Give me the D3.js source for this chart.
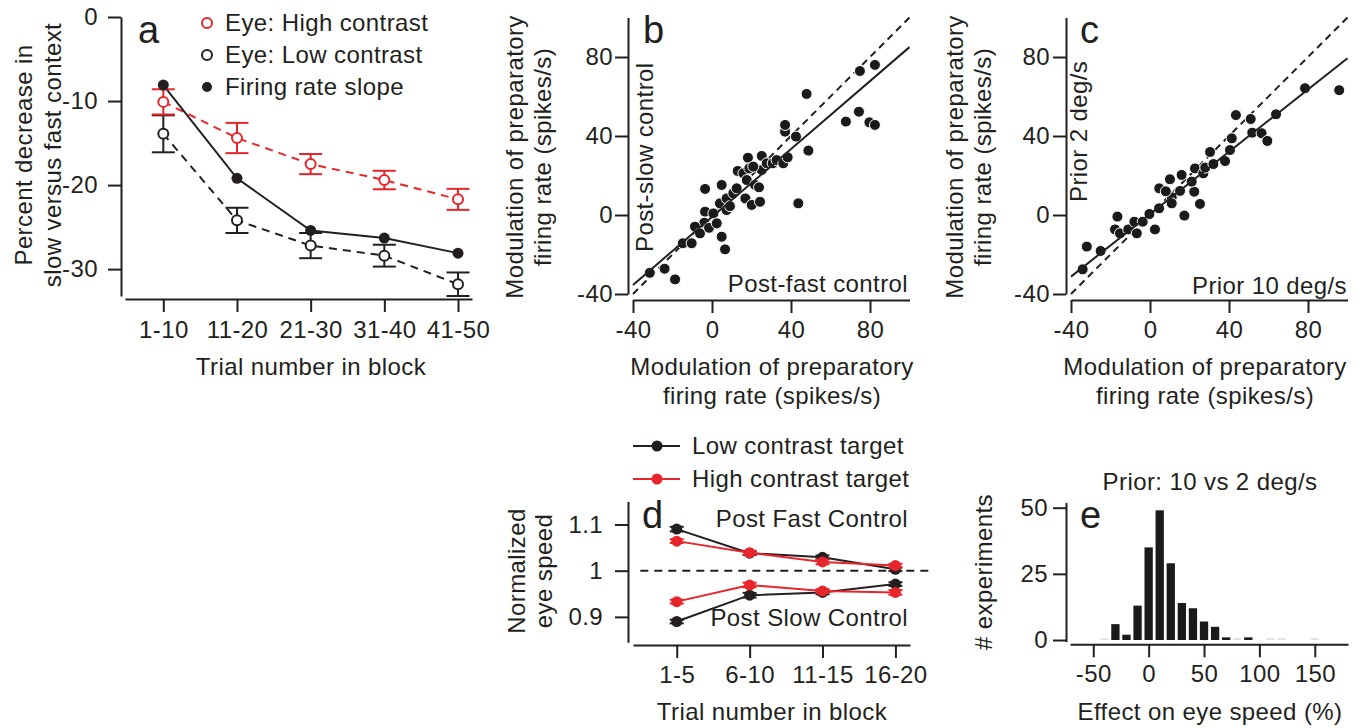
<!DOCTYPE html>
<html><head><meta charset="utf-8">
<script src="https://cdn.jsdelivr.net/npm/d3@7"></script>
<style>
body{margin:0;background:#fff;}
svg text{font-family:"Liberation Sans",Arial,Helvetica,sans-serif;fill:#231f20;}
</style></head><body>
<svg id="chart" width="1370" height="728"></svg>
<script>
// ---------- Panel a data ----------
const aCategories = ["1-10","11-20","21-30","31-40","41-50"];
const aFiringSlope = [-8.1,-19.2,-25.4,-26.3,-28.1];
const aEyeHigh = [-10.1,-14.4,-17.5,-19.4,-21.7];
const aEyeHighErr = [1.5,1.8,1.2,1.1,1.25];
const aEyeLow = [-13.9,-24.2,-27.2,-28.4,-31.8];
const aEyeLowErr = [2.2,1.5,1.5,1.3,1.4];
const aYTicks = [0,-10,-20,-30];
const aLegend = ["Eye: High contrast","Eye: Low contrast","Firing rate slope"];

// ---------- Panel b data (post-fast x, post-slow y) ----------
const bPostFast = [-31.5,-24,-18.7,-14.8,-10.3,-3.5,-3.5,-3.9,-8.6,-6.1,-1.5,0.7,2.4,4.9,6.6,4.9,4,7.4,7.4,9.1,10.8,12.5,13,15.9,17.6,18.2,18.9,16.9,20.1,21.8,23.8,25.2,25.2,20.9,24.3,27.7,30.7,32.7,36.1,38.3,37,37,42.5,48.8,43.7,47.9,67.8,74.4,74.9,79.7,82.5,82.5];
const bPostSlow = [-29.3,-27.2,-32.6,-14.3,-14.3,13.2,1.7,-3.9,-5.9,-9.3,-6.5,0.8,-4.2,-11,-17.4,15.2,5.9,8.4,2.5,4.5,11,13.5,22.3,21.1,17.7,29,23.6,8.4,5.1,15.2,14,29.9,22.8,24.5,6.7,26.2,26.2,27.8,26.2,29.2,42.2,45.6,39.7,32.6,5.9,61.3,47.3,52.3,72.9,46.9,76,45.6];
const bFit = {slope:0.86, intercept:-1};

// ---------- Panel c data (prior 10 x, prior 2 y) ----------
const cPrior10 = [-34.1,-32,-25,-16.5,-17.7,-15.2,-11,-7.9,-6.7,-3.7,-0.3,2.5,4.6,4.7,10.1,11,11,8,15.2,16,17.4,22.4,22.8,21.1,25.3,27,28,30.4,32.1,38,40.5,41.4,43.5,51,51.8,56.5,59.4,63.8,78.5,95.8];
const cPrior2 = [-27.5,-16,-18.2,-0.8,-7.3,-9.3,-7.3,-3.4,-9.3,-3.4,0.5,-7.3,3.4,13.5,18.1,9,5.9,12,12.2,20.3,-0.3,11.8,23.6,16.9,5.6,21.1,24,31.9,25.8,27.3,32.9,38.8,50.6,48.6,41.7,41.4,37.5,51,64.2,63.2];
const cFit = {slope:0.79, intercept:0.4};
const scatterTicks = [-40,0,40,80];

// ---------- Panel d data ----------
const dCategories = ["1-5","6-10","11-15","16-20"];
const dLowFast = [1.090,1.038,1.029,1.003];
const dLowSlow = [0.890,0.947,0.953,0.971];
const dHighFast = [1.064,1.039,1.019,1.011];
const dHighSlow = [0.933,0.969,0.956,0.953];
const dLowFastErr = [0.005,0.004,0.004,0.004];
const dLowSlowErr = [0.004,0.005,0.004,0.004];
const dHighFastErr = [0.004,0.004,0.005,0.004];
const dHighSlowErr = [0.004,0.005,0.004,0.005];
const dYTicks = [0.9,1,1.1];
const dLegend = ["Low contrast target","High contrast target"];

// ---------- Panel e data ----------
const eBins = [-40,-30,-20,-10,0,10,20,30,40,50,60,70,80,90,110,120,150];
const eCounts = [0,6,2,13,35,49,29,14,12,7,5,1,0,1,0,0,0];
const eXTicks = [-50,0,50,100,150];
const eYTicks = [0,25,50];

// ---------- drawing ----------
const svg = d3.select("#chart");
const INK = "#231f20", RED = "#e8252b";
const FS = 24, LS = "0.4px";
const fmt = d => String(d); // ASCII hyphen for negatives

function styleAxis(g){
  g.attr("font-size",null).attr("font-family",null);
  g.selectAll("path,line").attr("stroke",INK).attr("stroke-width",2);
  g.selectAll("text").attr("font-size",FS).attr("letter-spacing",LS).attr("fill",INK);
}
function text(x,y,s,opt={}){
  const t = svg.append("text").attr("x",x).attr("y",y).text(s)
    .attr("font-size",opt.size||FS).attr("letter-spacing",opt.ls||LS)
    .attr("text-anchor",opt.anchor||"start");
  if(opt.fill) t.attr("fill",opt.fill).style("fill",opt.fill);
  return t;
}
function rtext(x,y,s,anchor){ // rotated -90, (x,y) is the anchor point on baseline
  return svg.append("text").attr("transform",`translate(${x},${y}) rotate(-90)`)
    .attr("text-anchor",anchor||"middle").attr("font-size",FS).attr("letter-spacing",LS).text(s);
}
function errBars(g, xs, ys, es, sx, sy, color, half){
  xs.forEach((xv,i)=>{
    const x = sx(xv), y1 = sy(ys[i]-es[i]), y2 = sy(ys[i]+es[i]);
    g.append("line").attr("x1",x).attr("x2",x).attr("y1",y1).attr("y2",y2).attr("stroke",color).attr("stroke-width",2);
    [y1,y2].forEach(y=>g.append("line").attr("x1",x-half).attr("x2",x+half).attr("y1",y).attr("y2",y).attr("stroke",color).attr("stroke-width",2));
  });
}

// ===== Panel a =====
{
  const idx = aCategories.map((d,i)=>i);
  const x = d3.scaleLinear().domain([-0.52,4.19]).range([125,472]);
  const y = d3.scaleLinear().domain([-33.2,0]).range([296,17]);
  styleAxis(svg.append("g").attr("transform","translate(121,0)")
    .call(d3.axisLeft(y).tickValues(aYTicks).tickFormat(fmt).tickSize(13).tickPadding(10).tickSizeOuter(0)));
  styleAxis(svg.append("g").attr("transform","translate(0,299)")
    .call(d3.axisBottom(x).tickValues(idx).tickFormat(i=>aCategories[i]).tickSize(13).tickPadding(9).tickSizeOuter(0)));
  const line = d3.line().x((d,i)=>x(i)).y(d=>y(d));
  const g = svg.append("g");
  g.append("path").attr("d",line(aEyeLow)).attr("fill","none").attr("stroke",INK).attr("stroke-width",2).attr("stroke-dasharray","8,6");
  g.append("path").attr("d",line(aEyeHigh)).attr("fill","none").attr("stroke",RED).attr("stroke-width",2).attr("stroke-dasharray","8,6");
  g.append("path").attr("d",line(aFiringSlope)).attr("fill","none").attr("stroke",INK).attr("stroke-width",2);
  errBars(g, idx, aEyeLow, aEyeLowErr, x, y, INK, 11.5);
  errBars(g, idx, aEyeHigh, aEyeHighErr, x, y, RED, 11.5);
  g.selectAll(".lo").data(aEyeLow).join("circle").attr("cx",(d,i)=>x(i)).attr("cy",d=>y(d)).attr("r",5).attr("fill","#fff").attr("stroke",INK).attr("stroke-width",2);
  g.selectAll(".hi").data(aEyeHigh).join("circle").attr("cx",(d,i)=>x(i)).attr("cy",d=>y(d)).attr("r",5).attr("fill","#fff").attr("stroke",RED).attr("stroke-width",2);
  g.selectAll(".fr").data(aFiringSlope).join("circle").attr("cx",(d,i)=>x(i)).attr("cy",d=>y(d)).attr("r",5.5).attr("fill",INK);
  // legend
  const lstyles = [{f:"#fff",s:RED},{f:"#fff",s:INK},{f:INK,s:"none"}];
  aLegend.forEach((s,i)=>{
    const cy = 23 + i*32;
    svg.append("circle").attr("cx",207).attr("cy",cy).attr("r",5).attr("fill",lstyles[i].f).attr("stroke",lstyles[i].s).attr("stroke-width",2);
    text(225, cy+8, s);
  });
  text(138,43,"a",{size:38,ls:"0px"});
  rtext(32,155,"Percent decrease in");
  rtext(61,155,"slow versus fast context");
  text(311,375,"Trial number in block",{anchor:"middle"});
}

// ===== Scatter panels b, c =====
function scatter(opts){
  const x = d3.scaleLinear().domain([-40,100]).range([opts.x0, opts.x0+276.5]);
  const y = d3.scaleLinear().domain([-40,100]).range([294,17.5]);
  styleAxis(svg.append("g").attr("transform",`translate(${opts.yAxisX},0)`)
    .call(d3.axisLeft(y).tickValues(scatterTicks).tickFormat(fmt).tickSize(13).tickPadding(opts.pad).tickSizeOuter(0)));
  styleAxis(svg.append("g").attr("transform","translate(0,300)")
    .call(d3.axisBottom(x).tickValues(scatterTicks).tickFormat(fmt).tickSize(13).tickPadding(8).tickSizeOuter(0)));
  const g = svg.append("g");
  g.append("line").attr("x1",x(-40)).attr("y1",y(-40)).attr("x2",x(100)).attr("y2",y(100))
    .attr("stroke",INK).attr("stroke-width",2).attr("stroke-dasharray","7,5");
  const pts = opts.xs.map((v,i)=>[v,opts.ys[i]]);
  g.selectAll("circle").data(pts).join("circle").attr("cx",d=>x(d[0])).attr("cy",d=>y(d[1])).attr("r",5.5)
    .attr("fill","#1a1a1a").attr("stroke","#fff").attr("stroke-width",1);
  g.append("line").attr("x1",x(-40)).attr("y1",y(opts.fit.slope*-40+opts.fit.intercept))
    .attr("x2",x(100)).attr("y2",y(opts.fit.slope*100+opts.fit.intercept)).attr("stroke",INK).attr("stroke-width",2);
  text(opts.letterX,43,opts.letter,{size:38,ls:"0px"});
  rtext(opts.rotX, opts.rotY, opts.rotLabel, "start");
  text(opts.hEnd, opts.hY, opts.hLabel, {anchor:"end"});
  rtext(opts.ylx1,157,"Modulation of preparatory");
  rtext(opts.ylx2,157,"firing rate (spikes/s)");
  text(opts.xlc,375,"Modulation of preparatory",{anchor:"middle"});
  text(opts.xlc,404,"firing rate (spikes/s)",{anchor:"middle"});
}
scatter({x0:633, yAxisX:628, pad:2, xs:bPostFast, ys:bPostSlow, fit:bFit, letter:"b", letterX:643,
  rotX:653, rotY:252, rotLabel:"Post-slow control", hEnd:908, hY:292, hLabel:"Post-fast control",
  ylx1:523, ylx2:551, xlc:772});
scatter({x0:1071, yAxisX:1066, pad:3, xs:cPrior10, ys:cPrior2, fit:cFit, letter:"c", letterX:1080,
  rotX:1087, rotY:202, rotLabel:"Prior 2 deg/s", hEnd:1347, hY:294, hLabel:"Prior 10 deg/s",
  ylx1:963, ylx2:991, xlc:1205});

// ===== Panel d =====
{
  const idx = dCategories.map((d,i)=>i);
  const x = d3.scaleLinear().domain([-0.6,3.2]).range([633,910]);
  const y = d3.scaleLinear().domain([0.845,1.15]).range([642.3,501.4]);
  styleAxis(svg.append("g").attr("transform","translate(628,0)")
    .call(d3.axisLeft(y).tickValues(dYTicks).tickFormat(d=>d===1?"1":d3.format(".1f")(d)).tickSize(13).tickPadding(12).tickSizeOuter(0)));
  styleAxis(svg.append("g").attr("transform","translate(0,645)")
    .call(d3.axisBottom(x).tickValues(idx).tickFormat(i=>dCategories[i]).tickSize(13).tickPadding(8).tickSizeOuter(0)));
  const g = svg.append("g");
  g.append("line").attr("x1",x(-0.5)).attr("x2",x(3.52)).attr("y1",y(1)).attr("y2",y(1))
    .attr("stroke",INK).attr("stroke-width",2).attr("stroke-dasharray","8,6");
  const line = d3.line().x((d,i)=>x(i)).y(d=>y(d));
  const series = [[dLowFast,dLowFastErr,INK],[dLowSlow,dLowSlowErr,INK],[dHighFast,dHighFastErr,RED],[dHighSlow,dHighSlowErr,RED]];
  series.forEach(([vals,errs,col])=>{
    g.append("path").attr("d",line(vals)).attr("fill","none").attr("stroke",col).attr("stroke-width",2);
    errBars(g, idx, vals, errs, x, y, col, 7);
    vals.forEach((v,i)=>g.append("circle").attr("cx",x(i)).attr("cy",y(v)).attr("r",5.5).attr("fill",col));
  });
  [INK,RED].forEach((col,i)=>{
    const ly = 446 + i*33;
    svg.append("line").attr("x1",633).attr("x2",680).attr("y1",ly).attr("y2",ly).attr("stroke",col).attr("stroke-width",2);
    svg.append("circle").attr("cx",657).attr("cy",ly).attr("r",5.5).attr("fill",col);
    text(692, ly+8, dLegend[i]);
  });
  text(642,528,"d",{size:38,ls:"0px"});
  text(908,527,"Post Fast Control",{anchor:"end"});
  text(908,626,"Post Slow Control",{anchor:"end"});
  rtext(525,571,"Normalized");
  rtext(552,571,"eye speed");
  text(772,720,"Trial number in block",{anchor:"middle"});
}

// ===== Panel e =====
{
  const x = d3.scaleLinear().domain([-71,180]).range([1070,1348]);
  const y = d3.scaleLinear().domain([-0.6,52]).range([641.6,502.4]);
  styleAxis(svg.append("g").attr("transform","translate(1066,0)")
    .call(d3.axisLeft(y).tickValues(eYTicks).tickSize(13).tickPadding(5).tickSizeOuter(0)));
  styleAxis(svg.append("g").attr("transform","translate(0,644.3)")
    .call(d3.axisBottom(x).tickValues(eXTicks).tickFormat(fmt).tickSize(13).tickPadding(8).tickSizeOuter(0)));
  const g = svg.append("g");
  eBins.forEach((b,i)=>{
    const c = eCounts[i];
    if(c>0){
      g.append("rect").attr("x",x(b-3.75)).attr("width",x(b+3.75)-x(b-3.75))
        .attr("y",y(c)).attr("height",y(0)-y(c)).attr("fill","#1a1a1a");
    } else {
      g.append("line").attr("x1",x(b-3.75)).attr("x2",x(b+3.75)).attr("y1",y(0)-1).attr("y2",y(0)-1)
        .attr("stroke","#c8c8c8").attr("stroke-width",1);
    }
  });
  text(1210,490,"Prior: 10 vs 2 deg/s",{anchor:"middle"});
  text(1080,528,"e",{size:38,ls:"0px"});
  rtext(992,572,"# experiments");
  text(1210,720,"Effect on eye speed (%)",{anchor:"middle"});
}
</script>
</body></html>
